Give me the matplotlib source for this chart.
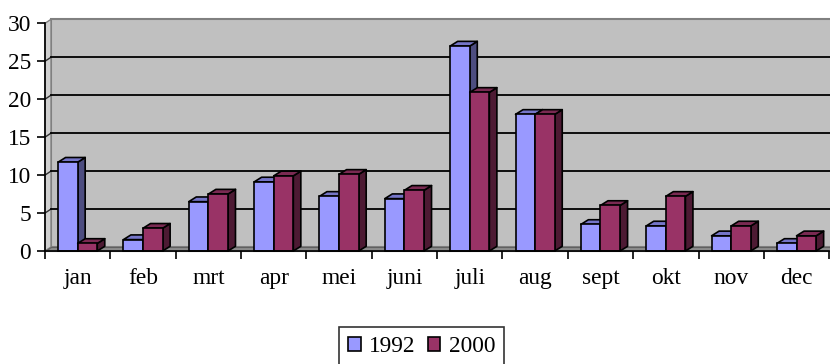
import matplotlib
matplotlib.use("Agg")
import matplotlib.pyplot as plt
from matplotlib.patches import Polygon, Rectangle
from matplotlib.lines import Line2D

plt.rcParams["font.family"] = ["Liberation Serif", "DejaVu Serif"]

months = ["jan", "feb", "mrt", "apr", "mei", "juni", "juli", "aug", "sept", "okt", "nov", "dec"]
series_names = ["1992", "2000"]
values_1992 = [11.7, 1.5, 6.5, 9.1, 7.2, 6.9, 27.0, 18.0, 3.5, 3.3, 2.0, 1.0]
values_2000 = [1.0, 3.0, 7.5, 9.9, 10.1, 8.0, 20.9, 18.0, 6.0, 7.2, 3.3, 2.0]
y_ticks = [0, 5, 10, 15, 20, 25, 30]

# colours: front, top, side
face_colors = {
    "1992": ("#9999FF", "#7575C8", "#4D4D80"),
    "2000": ("#993366", "#7A2A52", "#4D1A33"),
}

FS = 16.8

W, H = 830, 364
fig = plt.figure(figsize=(W / 100, H / 100), dpi=100)
ax_left, ax_right = 45, 829.2
ax_top, ax_bottom = 23.3, 251
ax = fig.add_axes([ax_left / W, (H - ax_bottom) / H,
                   (ax_right - ax_left) / W, (ax_bottom - ax_top) / H])
n = len(months)
ymax = 30
ax.set_xlim(0, n)
ax.set_ylim(0, ymax)

px_x = (ax_right - ax_left) / n      # pixels per category
px_y = (ax_bottom - ax_top) / ymax   # pixels per value unit

# depth offsets (pixels -> data)
wall_dx, wall_dy = 6 / px_x, 4 / px_y
bar_dx, bar_dy = 7.5 / px_x, 4.7 / px_y

# back wall, side wall and floor
wall_right = n + 1
ax.add_patch(Polygon([(wall_dx, wall_dy), (wall_right, wall_dy),
                      (wall_right, ymax + wall_dy), (wall_dx, ymax + wall_dy)],
                     closed=True, facecolor="#C0C0C0", edgecolor="#808080",
                     linewidth=1.5, clip_on=False, zorder=0))
ax.add_patch(Polygon([(0, 0), (wall_dx, wall_dy), (wall_dx, ymax + wall_dy), (0, ymax)],
                     closed=True, facecolor="#D0D0D0", edgecolor="#808080",
                     linewidth=1.0, clip_on=False, zorder=0.5))
ax.add_patch(Polygon([(0, 0), (wall_right, 0), (wall_right, wall_dy), (wall_dx, wall_dy)],
                     closed=True, facecolor="#8C8C8C", edgecolor="#606060",
                     linewidth=0.8, clip_on=False, zorder=0.6))

# gridlines on side wall and back wall
for v in y_ticks[1:-1]:
    ax.add_line(Line2D([0, wall_dx], [v, v + wall_dy], color="#303030",
                       linewidth=1.0, clip_on=False, zorder=0.7))
    ax.add_line(Line2D([wall_dx, wall_right], [v + wall_dy, v + wall_dy],
                       color="black", linewidth=1.3, clip_on=False, zorder=0.7))

# 3D columns
bar_w = 0.3
start = 0.2
for i in range(n):
    for k, (name, vals) in enumerate(zip(series_names, [values_1992, values_2000])):
        v = vals[i]
        x0 = i + start + k * bar_w
        x1 = x0 + bar_w
        front, top, side = face_colors[name]
        z = 2 + i * 0.1 + k * 0.01
        ax.add_patch(Polygon([(x1, 0), (x1 + bar_dx, bar_dy), (x1 + bar_dx, v + bar_dy), (x1, v)],
                             closed=True, facecolor=side, edgecolor="black",
                             linewidth=1.2, joinstyle="round", clip_on=False, zorder=z))
        ax.add_patch(Polygon([(x0, v), (x1, v), (x1 + bar_dx, v + bar_dy), (x0 + bar_dx, v + bar_dy)],
                             closed=True, facecolor=top, edgecolor="black",
                             linewidth=1.2, joinstyle="round", clip_on=False, zorder=z))
        ax.bar(x0, v, width=bar_w, align="edge", color=front, edgecolor="black",
               linewidth=1.2, clip_on=False, zorder=z + 0.001)

# axes styling
for s in ["top", "right"]:
    ax.spines[s].set_visible(False)
for s in ["left", "bottom"]:
    ax.spines[s].set_color("black")
    ax.spines[s].set_linewidth(1.2)
    ax.spines[s].set_zorder(5)
ax.set_facecolor("none")

ax.set_yticks(y_ticks)
ax.set_yticklabels([str(t) for t in y_ticks])
ax.tick_params(axis="y", direction="out", length=6, width=1.2, pad=4, labelsize=FS)

ax.set_xticks(range(n + 1))
ax.set_xticklabels([""] * (n + 1))
ax.tick_params(axis="x", which="major", direction="out", length=6, width=1.2)
ax.set_xticks([i + 0.5 for i in range(n)], minor=True)
ax.set_xticklabels(months, minor=True)
ax.tick_params(axis="x", which="minor", length=0, pad=12.5, labelsize=FS)

# legend
handles = [Rectangle((0, 0), 1, 1, facecolor=face_colors[s][0], edgecolor="black", linewidth=1.2)
           for s in series_names]
leg = fig.legend(handles, series_names, loc="upper left",
                 bbox_to_anchor=(339 / W, 1 - 327 / H), ncol=2, frameon=True,
                 fontsize=FS, handlelength=0.55, handleheight=0.55, handletextpad=0.35,
                 columnspacing=0.5, borderpad=0.4, borderaxespad=0, fancybox=False)
leg.get_frame().set_edgecolor("black")
leg.get_frame().set_linewidth(1.2)

fig.savefig("out.png", dpi=100)
